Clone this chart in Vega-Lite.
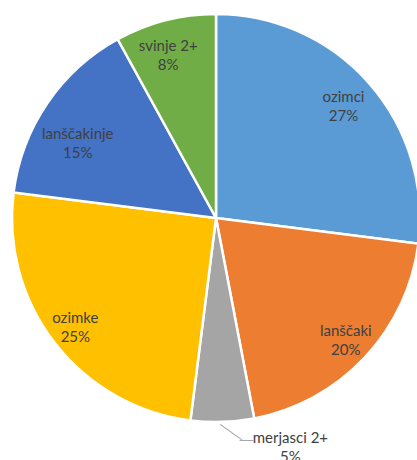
{
  "$schema": "https://vega.github.io/schema/vega-lite/v6.json",
  "width": 402,
  "height": 436,
  "autosize": "none",
  "padding": {"left": 15, "top": 0, "right": 0, "bottom": 24},
  "background": "white",
  "data": {
    "values": [
      {"category": "ozimci", "share": 0.27, "rank": 1},
      {"category": "lanščaki", "share": 0.20, "rank": 2},
      {"category": "merjasci 2+", "share": 0.05, "rank": 3},
      {"category": "ozimke", "share": 0.25, "rank": 4},
      {"category": "lanščakinje", "share": 0.15, "rank": 5},
      {"category": "svinje 2+", "share": 0.08, "rank": 6}
    ]
  },
  "transform": [
    {"calculate": "datum.category + '\\n' + format(datum.share, '.0%')", "as": "label"}
  ],
  "encoding": {
    "theta": {"field": "share", "type": "quantitative", "stack": true},
    "order": {"field": "rank", "type": "quantitative"}
  },
  "layer": [
    {
      "mark": {"type": "arc", "radius": 204, "stroke": "white", "strokeWidth": 2.5},
      "encoding": {
        "color": {
          "field": "category",
          "type": "nominal",
          "scale": {
            "domain": ["ozimci", "lanščaki", "merjasci 2+", "ozimke", "lanščakinje", "svinje 2+"],
            "range": ["#5B9BD5", "#ED7D31", "#A5A5A5", "#FFC000", "#4472C4", "#70AD47"]
          },
          "legend": null
        }
      }
    },
    {
      "mark": {"type": "text", "radius": 178, "dy": -9, "font": "Lato", "fontSize": 15, "fill": "#404040", "lineBreak": "\n", "lineHeight": 19, "align": "center", "baseline": "middle"},
      "encoding": {
        "text": {"field": "label"},
        "opacity": {"condition": {"test": "datum.category == 'lanščaki' || datum.category == 'ozimke'", "value": 1}, "value": 0}
      }
    },
    {
      "mark": {"type": "text", "radius": 170, "dy": -9, "font": "Lato", "fontSize": 15, "fill": "#404040", "lineBreak": "\n", "lineHeight": 19, "align": "center", "baseline": "middle"},
      "encoding": {
        "text": {"field": "label"},
        "opacity": {"condition": {"test": "datum.category == 'ozimci'", "value": 1}, "value": 0}
      }
    },
    {
      "mark": {"type": "text", "radius": 168, "dx": -6, "dy": -9, "font": "Lato", "fontSize": 15, "fill": "#404040", "lineBreak": "\n", "lineHeight": 19, "align": "center", "baseline": "middle"},
      "encoding": {
        "text": {"field": "label"},
        "opacity": {"condition": {"test": "datum.category == 'svinje 2+'", "value": 1}, "value": 0}
      }
    },
    {
      "mark": {"type": "text", "radius": 172, "dx": 4, "dy": 13, "font": "Lato", "fontSize": 15, "fill": "#404040", "lineBreak": "\n", "lineHeight": 19, "align": "center", "baseline": "middle"},
      "encoding": {
        "text": {"field": "label"},
        "opacity": {"condition": {"test": "datum.category == 'lanščakinje'", "value": 1}, "value": 0}
      }
    },
    {
      "mark": {"type": "text", "radius": 204, "dx": 68, "dy": 16, "font": "Lato", "fontSize": 15, "fill": "#404040", "lineBreak": "\n", "lineHeight": 19, "align": "center", "baseline": "middle"},
      "encoding": {
        "text": {"field": "label"},
        "opacity": {"condition": {"test": "datum.category == 'merjasci 2+'", "value": 1}, "value": 0}
      }
    },
    {
      "mark": {"type": "text", "radius": 204, "angle": 35.9, "dx": 13, "dy": 4, "font": "DejaVu Sans Mono", "fontSize": 11, "fill": "#A5A5A5", "align": "center", "baseline": "middle"},
      "encoding": {
        "text": {"value": "────"},
        "opacity": {"condition": {"test": "datum.category == 'merjasci 2+'", "value": 1}, "value": 0}
      }
    },
    {
      "mark": {"type": "text", "radius": 204, "dx": 24, "dy": 19, "font": "DejaVu Sans Mono", "fontSize": 11, "fill": "#A5A5A5", "align": "center", "baseline": "middle"},
      "encoding": {
        "text": {"value": "──"},
        "opacity": {"condition": {"test": "datum.category == 'merjasci 2+'", "value": 1}, "value": 0}
      }
    }
  ],
  "config": {"view": {"stroke": null}}
}
